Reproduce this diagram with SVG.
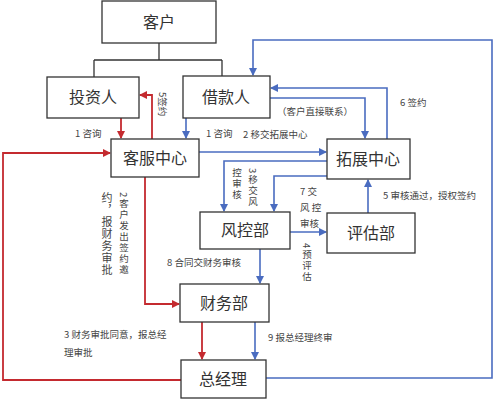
<svg xmlns="http://www.w3.org/2000/svg" width="494" height="400" viewBox="0 0 494 400">
<style>
.node rect{fill:#fff;stroke:#333;stroke-width:1.3}
.node text{font-family:"Noto Sans CJK SC","Liberation Serif",serif;font-size:16px;fill:#333;text-anchor:middle}
.lbl{font-family:"Noto Sans CJK SC","Liberation Sans",sans-serif;font-size:9.5px;fill:#444}
.vl{font-family:"Noto Sans CJK SC","Liberation Sans",sans-serif;font-size:9.5px;fill:#444;writing-mode:vertical-rl;letter-spacing:1.5px}
.k{fill:none;stroke:#333;stroke-width:1.3}
.r{fill:none;stroke:#c42a2f;stroke-width:1.8;marker-end:url(#ar)}
.b{fill:none;stroke:#4a6cc0;stroke-width:1.6;marker-end:url(#ab)}
</style>
<defs>
<marker id="ar" markerWidth="8" markerHeight="8" refX="7" refY="4" orient="auto" markerUnits="userSpaceOnUse"><path d="M0,0 L8,4 L0,8 Z" fill="#c42a2f"/></marker>
<marker id="ab" markerWidth="8" markerHeight="8" refX="7" refY="4" orient="auto" markerUnits="userSpaceOnUse"><path d="M0,0 L8,4 L0,8 Z" fill="#4a6cc0"/></marker>
</defs>
<rect width="494" height="400" fill="#fff"/>
<g id="connectors">
<path class="k" d="M159,43 V60 M94,60 H222 M94,60 V77 M222,60 V76"/>
<path class="r" d="M121,118 V138"/>
<path class="r" d="M152,139 V95 H140"/>
<path class="r" d="M181,380 H3 V153 H110"/>
<path class="r" d="M145,177 V304 H179"/>
<path class="r" d="M202,322 V359"/>
<path class="b" d="M186,118 V138"/>
<path class="b" d="M199,152 H326"/>
<path class="b" d="M270,98 H365 V138"/>
<path class="b" d="M387,139 V88 H271"/>
<path class="b" d="M327,161 H224 V211"/>
<path class="b" d="M327,176 H274 V211"/>
<path class="b" d="M290,232 H326"/>
<path class="b" d="M368,213 V180"/>
<path class="b" d="M260,249 V283"/>
<path class="b" d="M255,322 V359"/>
<path class="b" d="M266,378 H492 V40 H253 V75"/>
</g>
<g id="n-kehu" class="node"><rect x="102" y="1" width="114" height="42"/><text x="159" y="28">客户</text></g>
<g id="n-touziren" class="node"><rect x="47" y="77" width="92" height="41"/><text x="93" y="103">投资人</text></g>
<g id="n-jiekuanren" class="node"><rect x="183" y="76" width="87" height="42"/><text x="226" y="103">借款人</text></g>
<g id="n-kefu" class="node"><rect x="111" y="139" width="88" height="38"/><text x="155" y="164">客服中心</text></g>
<g id="n-tuozhan" class="node"><rect x="327" y="139" width="83" height="40"/><text x="368" y="165">拓展中心</text></g>
<g id="n-fengkong" class="node"><rect x="200" y="212" width="90" height="37"/><text x="245" y="236">风控部</text></g>
<g id="n-pinggu" class="node"><rect x="327" y="213" width="88" height="40"/><text x="371" y="239">评估部</text></g>
<g id="n-caiwu" class="node"><rect x="180" y="284" width="89" height="38"/><text x="224" y="309">财务部</text></g>
<g id="n-zongjingli" class="node"><rect x="181" y="360" width="85" height="38"/><text x="223" y="385">总经理</text></g>
<g id="labels">
<text class="lbl" x="75" y="137">1 咨询</text>
<text class="lbl" x="206" y="137">1 咨询</text>
<text class="lbl" x="243" y="138">2 移交拓展中心</text>
<text class="lbl" x="277" y="115">（客户直接联系）</text>
<text class="lbl" x="400" y="106">6 签约</text>
<text class="lbl" x="383" y="199">5 审核通过，授权签约</text>
<text class="lbl" x="167" y="266">8 合同交财务审核</text>
<text class="lbl" x="268" y="341">9 报总经理终审</text>
<text class="lbl" x="64" y="338">3 财务审批同意，报总经</text>
<text class="lbl" x="64" y="356">理审批</text>
<text class="lbl" x="300" y="195">7  交</text>
<text class="lbl" x="300" y="211">风 控</text>
<text class="lbl" x="300" y="227">审核</text>
<text class="lbl" transform="translate(159,92) rotate(90)">5签约</text>
<text class="vl" x="124" y="192">2客户发出签约邀</text>
<text class="vl" x="107" y="192" style="font-size:11px;letter-spacing:1px">约，报财务审批</text>
<text class="vl" x="253" y="168">3移交风</text>
<text class="vl" x="237" y="168">控审核</text>
<text class="vl" x="307" y="243">4预评估</text>
</g>
</svg>
